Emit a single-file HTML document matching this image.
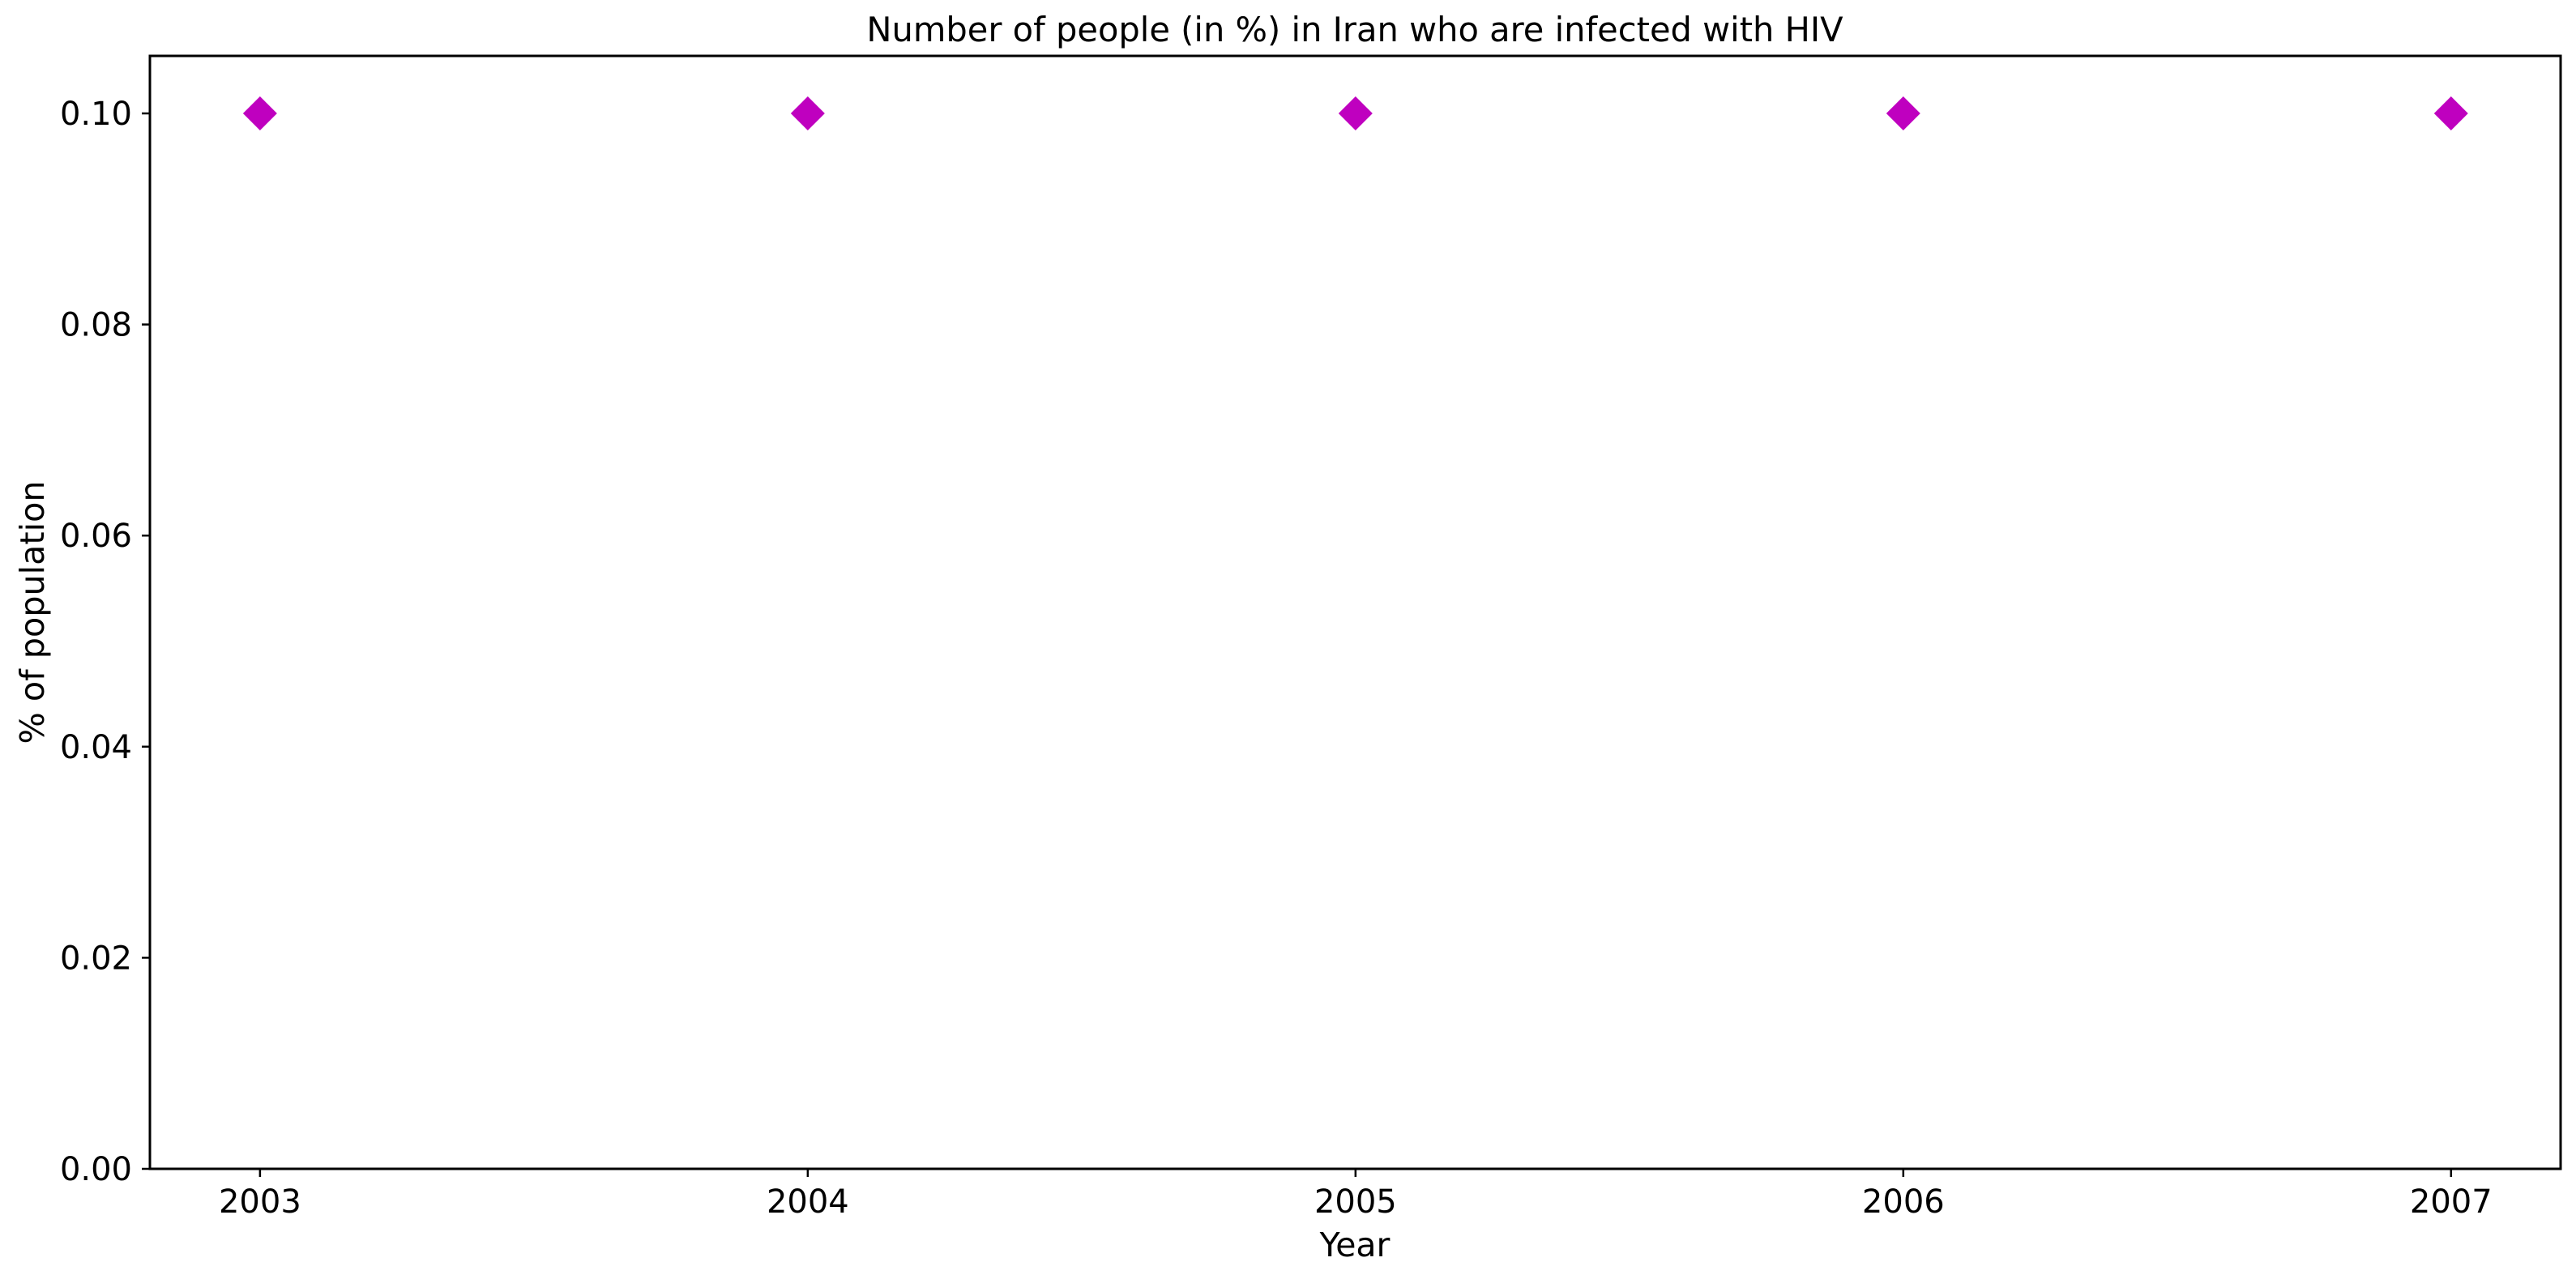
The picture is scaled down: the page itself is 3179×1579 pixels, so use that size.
<!DOCTYPE html>
<html><head><meta charset="utf-8"><style>
html,body{margin:0;padding:0;background:#fff;}
svg{display:block;font-family:"DejaVu Sans","Liberation Sans",sans-serif;}
</style></head><body>
<svg id="chart" width="3179" height="1579" viewBox="0 0 3179 1579">
<rect width="3179" height="1579" fill="#fff"/>
<text x="1672" y="51" font-size="41.6" text-anchor="middle">Number of people (in %) in Iran who are infected with HIV</text>
<text x="1672" y="1551" font-size="41" text-anchor="middle">Year</text>
<text transform="translate(54,756) rotate(-90)" font-size="41.3" text-anchor="middle">% of population</text>
<g id="ticks"></g>
<g id="marks"></g>
<rect x="185" y="69" width="2975" height="1374" fill="none" stroke="#000" stroke-width="3"/>
</svg>
<script>
const years = [2003, 2004, 2005, 2006, 2007];
const values = [0.1, 0.1, 0.1, 0.1, 0.1];
const yTicks = [0, 0.02, 0.04, 0.06, 0.08, 0.10];
const yTickLabels = ["0.00", "0.02", "0.04", "0.06", "0.08", "0.10"];
const xTicks = [2003, 2004, 2005, 2006, 2007];

const L = 185, R = 3160, T = 69, B = 1443;
const xMin = 2002.799, xMax = 2007.2, yMin = 0, yMax = 0.10545;
const xs = v => L + (v - xMin) / (xMax - xMin) * (R - L);
const ys = v => B - (v - yMin) / (yMax - yMin) * (B - T);
const NS = "http://www.w3.org/2000/svg";
const tg = document.getElementById('ticks');
const mg = document.getElementById('marks');

yTicks.forEach((t, i) => {
  const y = ys(t);
  const ln = document.createElementNS(NS, 'line');
  ln.setAttribute('x1', L - 10); ln.setAttribute('x2', L);
  ln.setAttribute('y1', y); ln.setAttribute('y2', y);
  ln.setAttribute('stroke', '#000'); ln.setAttribute('stroke-width', '2.5');
  
  
  tg.appendChild(ln);
  const tx = document.createElementNS(NS, 'text');
  tx.setAttribute('x', L - 22); tx.setAttribute('y', y + 14);
  tx.setAttribute('font-size', '40'); tx.setAttribute('text-anchor', 'end');
  tx.textContent = yTickLabels[i];
  
  
  tg.appendChild(tx);
});

xTicks.forEach(t => {
  const x = xs(t);
  const ln = document.createElementNS(NS, 'line');
  ln.setAttribute('x1', x); ln.setAttribute('x2', x);
  ln.setAttribute('y1', B); ln.setAttribute('y2', B + 10);
  ln.setAttribute('stroke', '#000'); ln.setAttribute('stroke-width', '2.5');
  
  
  tg.appendChild(ln);
  const tx = document.createElementNS(NS, 'text');
  tx.setAttribute('x', x); tx.setAttribute('y', B + 54);
  tx.setAttribute('font-size', '40'); tx.setAttribute('text-anchor', 'middle');
  tx.textContent = String(t);
  
  
  tg.appendChild(tx);
});

years.forEach((yr, i) => {
  const cx = xs(yr), cy = ys(values[i]), s = 21;
  const p = document.createElementNS(NS, 'polygon');
  p.setAttribute('points', `${cx},${cy - s} ${cx + s},${cy} ${cx},${cy + s} ${cx - s},${cy}`);
  p.setAttribute('fill', '#bf00bf');
  
  
  mg.appendChild(p);
});
</script>
</body></html>
